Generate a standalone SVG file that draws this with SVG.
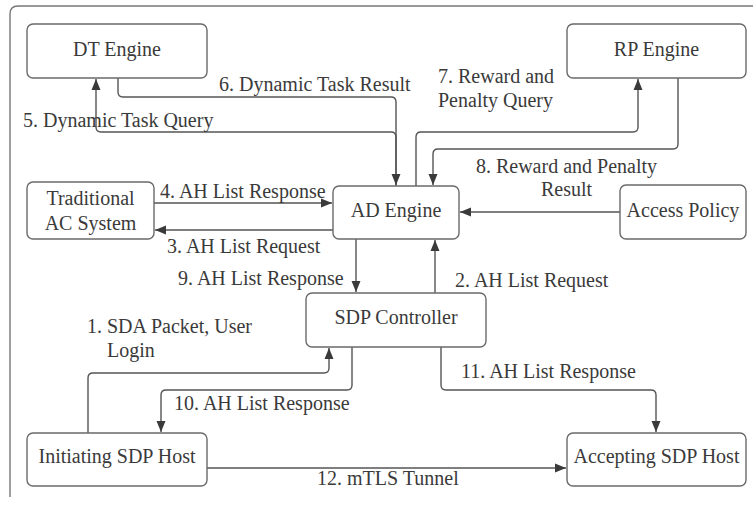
<svg xmlns="http://www.w3.org/2000/svg" width="753" height="505" viewBox="0 0 753 505">
<style>
.box{fill:#fff;stroke:#6a6a6a;stroke-width:1.4}
.c{fill:none;stroke:#555;stroke-width:1.4}
text{font-family:'Liberation Serif','Tinos','Noto Serif','DejaVu Serif',serif;font-size:20px;fill:#3a3a3a}
.m{text-anchor:middle}
</style>
<defs>
<marker id="ah" markerUnits="userSpaceOnUse" markerWidth="12" markerHeight="10" refX="11" refY="5" orient="auto">
<path d="M0,0.5 L11,5 L0,9.5 z" fill="#3a3a3a"/>
</marker>
</defs>
<rect width="753" height="505" fill="#fff"/>
<path d="M10,497 V14 Q10,6 18,6 H753" fill="none" stroke="#777" stroke-width="1.4"/>
<g id="connectors">
<path class="c" d="M396,186 V137 Q396,132 391,132 H101 Q96,132 96,127 V79" marker-end="url(#ah)"/>
<path class="c" d="M118,78 V92 Q118,97 123,97 H391 Q396,97 396,102 V185" marker-end="url(#ah)"/>
<path class="c" d="M416,186 V137 Q416,132 421,132 H633 Q638,132 638,127 V79" marker-end="url(#ah)"/>
<path class="c" d="M678,78 V144 Q678,149 673,149 H438 Q433,149 433,154 V185" marker-end="url(#ah)"/>
<path class="c" d="M154,203 H332" marker-end="url(#ah)"/>
<path class="c" d="M333,230 H155" marker-end="url(#ah)"/>
<path class="c" d="M620,212 H460" marker-end="url(#ah)"/>
<path class="c" d="M356,239 V292" marker-end="url(#ah)"/>
<path class="c" d="M435,293 V240" marker-end="url(#ah)"/>
<path class="c" d="M88,433 V378 Q88,373 93,373 H324 Q329,373 329,368 V348" marker-end="url(#ah)"/>
<path class="c" d="M352,347 V385 Q352,390 347,390 H166 Q161,390 161,395 V432" marker-end="url(#ah)"/>
<path class="c" d="M441,347 V385 Q441,390 446,390 H651 Q656,390 656,395 V432" marker-end="url(#ah)"/>
<path class="c" d="M207,468 H566" marker-end="url(#ah)"/>
</g>
<g id="labels">
<text x="219" y="91">6. Dynamic Task Result</text>
<text x="23" y="127">5. Dynamic Task Query</text>
<text x="438" y="83">7. Reward and</text>
<text x="438" y="107">Penalty Query</text>
<text class="m" x="566.5" y="173">8. Reward and Penalty</text>
<text class="m" x="566.5" y="196">Result</text>
<text x="160" y="198">4. AH List Response</text>
<text x="167" y="253">3. AH List Request</text>
<text x="178" y="285">9. AH List Response</text>
<text x="455" y="287">2. AH List Request</text>
<text x="87" y="333">1. SDA Packet, User</text>
<text x="107" y="357">Login</text>
<text x="174" y="410">10. AH List Response</text>
<text x="461" y="378">11. AH List Response</text>
<text x="317" y="485">12. mTLS Tunnel</text>
</g>
<g id="dt-engine"><rect class="box" x="27" y="24" width="180" height="54" rx="6"/><text class="m" x="117" y="56">DT Engine</text></g>
<g id="rp-engine"><rect class="box" x="567" y="24" width="179" height="54" rx="6"/><text class="m" x="656.5" y="56">RP Engine</text></g>
<g id="traditional-ac"><rect class="box" x="27" y="182" width="127" height="57" rx="6"/><text class="m" x="90.5" y="205">Traditional</text><text class="m" x="90.5" y="230">AC System</text></g>
<g id="ad-engine"><rect class="box" x="333" y="186" width="126" height="53" rx="6"/><text class="m" x="396" y="217">AD Engine</text></g>
<g id="access-policy"><rect class="box" x="620" y="185" width="126" height="54" rx="6"/><text class="m" x="683" y="217">Access Policy</text></g>
<g id="sdp-controller"><rect class="box" x="306" y="293" width="180" height="54" rx="6"/><text class="m" x="396" y="324">SDP Controller</text></g>
<g id="initiating-host"><rect class="box" x="27" y="433" width="180" height="53" rx="6"/><text class="m" x="117" y="463">Initiating SDP Host</text></g>
<g id="accepting-host"><rect class="box" x="567" y="433" width="179" height="53" rx="6"/><text class="m" x="656.5" y="463">Accepting SDP Host</text></g>
</svg>
